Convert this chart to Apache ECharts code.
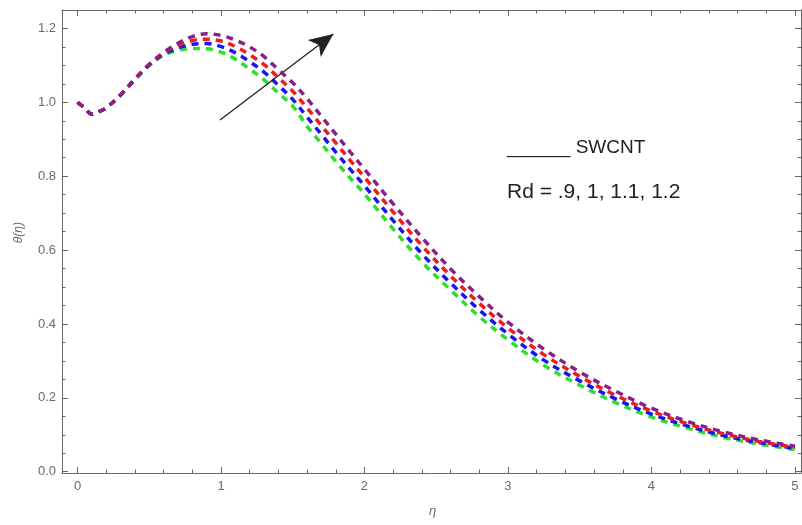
<!DOCTYPE html>
<html>
<head>
<meta charset="utf-8">
<title>θ(η) profiles – SWCNT</title>
<script src="https://cdn.jsdelivr.net/npm/echarts@6/dist/echarts.min.js"></script>
<style>
  html, body { margin: 0; padding: 0; background: #fff; }
  #chart { width: 802px; height: 525px; }
</style>
</head>
<body>
<div id="chart"></div>
<script>
// Similarity variable η (shared by every curve)
const eta = [0, 0.05, 0.1, 0.15, 0.2, 0.3, 0.4, 0.5, 0.6, 0.7, 0.8, 0.9, 1.0, 1.1, 1.2, 1.3, 1.4, 1.5,
             1.6, 1.7, 1.8, 1.9, 2.0, 2.2, 2.4, 2.6, 2.8, 3.0, 3.25, 3.5, 3.75, 4.0, 4.25, 4.5, 4.75, 5.0];

// Temperature profiles θ(η) for the radiation parameter Rd
const thetaRd09 = [1.0, 0.985, 0.968, 0.975, 0.985, 1.02, 1.062, 1.100, 1.128, 1.140, 1.146, 1.145, 1.136, 1.117,
                   1.090, 1.061, 1.025, 0.990, 0.935, 0.888, 0.840, 0.795, 0.752, 0.657, 0.568, 0.492, 0.420,
                   0.357, 0.288, 0.234, 0.187, 0.148, 0.118, 0.093, 0.075, 0.060];
const thetaRd10 = [1.0, 0.985, 0.968, 0.975, 0.985, 1.02, 1.062, 1.101, 1.130, 1.147, 1.157, 1.159, 1.151, 1.134,
                   1.110, 1.082, 1.046, 1.008, 0.960, 0.913, 0.865, 0.819, 0.774, 0.680, 0.590, 0.511, 0.438,
                   0.373, 0.302, 0.246, 0.197, 0.156, 0.124, 0.098, 0.079, 0.063];
const thetaRd11 = [1.0, 0.985, 0.968, 0.975, 0.985, 1.02, 1.063, 1.102, 1.133, 1.154, 1.167, 1.171, 1.166, 1.151,
                   1.129, 1.102, 1.067, 1.030, 0.985, 0.937, 0.890, 0.843, 0.797, 0.703, 0.612, 0.530, 0.456,
                   0.389, 0.317, 0.258, 0.207, 0.164, 0.130, 0.103, 0.082, 0.066];
const thetaRd12 = [1.0, 0.985, 0.968, 0.975, 0.985, 1.02, 1.063, 1.103, 1.135, 1.160, 1.178, 1.186, 1.181, 1.169,
                   1.150, 1.124, 1.088, 1.053, 1.010, 0.962, 0.914, 0.866, 0.819, 0.725, 0.634, 0.549, 0.474,
                   0.405, 0.332, 0.270, 0.218, 0.172, 0.136, 0.108, 0.086, 0.069];

const rdNames  = ['Rd = 0.9', 'Rd = 1', 'Rd = 1.1', 'Rd = 1.2'];
const rdColors = ['#2fdc2f', '#1515f0', '#ee1c1c', '#8a1f8a'];
const rdSeries = [thetaRd09, thetaRd10, thetaRd11, thetaRd12];

// Frame ticks
const xMajor = [0, 1, 2, 3, 4, 5];
const xMinor = [0.2, 0.4, 0.6, 0.8, 1.2, 1.4, 1.6, 1.8, 2.2, 2.4, 2.6, 2.8, 3.2, 3.4, 3.6, 3.8,
                4.2, 4.4, 4.6, 4.8];
const yMajor = [0, 0.2, 0.4, 0.6, 0.8, 1.0, 1.2];
const yMinor = [0.05, 0.1, 0.15, 0.25, 0.3, 0.35, 0.45, 0.5, 0.55, 0.65, 0.7, 0.75, 0.85, 0.9, 0.95,
                1.05, 1.1, 1.15];

// Arrow showing the direction of increasing Rd
const arrowFrom = [0.993, 0.952];
const arrowTo   = [1.783, 1.185];

const X_MIN = -0.108, X_MAX = 5.042, Y_MIN = -0.0035, Y_MAX = 1.25;
const frameColor = '#666';
const labelColor = '#6a6a6a';
const fontFamily = '"Liberation Sans", Arial, sans-serif';

function frameXAxis(position, values, len, withLine, withLabels) {
  return {
    type: 'value', position: position, min: X_MIN, max: X_MAX,
    axisLine: { show: withLine, onZero: false, lineStyle: { color: frameColor, width: 1 } },
    axisTick: { show: true, inside: true, length: len, customValues: values,
                lineStyle: { color: frameColor, width: 1 } },
    axisLabel: { show: withLabels, customValues: values, color: labelColor, fontSize: 13,
                 fontFamily: fontFamily, margin: 7 },
    splitLine: { show: false }
  };
}
function frameYAxis(position, values, len, withLine, withLabels) {
  return {
    type: 'value', position: position, min: Y_MIN, max: Y_MAX,
    axisLine: { show: withLine, onZero: false, lineStyle: { color: frameColor, width: 1 } },
    axisTick: { show: true, inside: true, length: len, customValues: values,
                lineStyle: { color: frameColor, width: 1 } },
    axisLabel: { show: withLabels, customValues: values, color: labelColor, fontSize: 13,
                 fontFamily: fontFamily, margin: 6,
                 formatter: v => v.toFixed(1) },
    splitLine: { show: false }
  };
}

const series = rdSeries.map((vals, i) => ({
  name: rdNames[i],
  type: 'line',
  xAxisIndex: 0, yAxisIndex: 0,
  data: eta.map((e, k) => [e, vals[k]]),
  smooth: 0.35,
  showSymbol: false,
  lineStyle: { color: rdColors[i], width: 3.5, type: [7, 6], cap: 'butt' },
  z: 3 + i
}));

series.push({
  name: 'arrow',
  type: 'line',
  xAxisIndex: 0, yAxisIndex: 0,
  data: [],
  markLine: {
    silent: true,
    symbol: ['none', 'arrow'],
    symbolSize: [16, 24],
    label: { show: false },
    lineStyle: { color: '#222', width: 1.3, type: 'solid' },
    data: [[{ coord: arrowFrom }, { coord: arrowTo }]]
  },
  z: 10
});

const chart = echarts.init(document.getElementById('chart'), null, { renderer: 'canvas' });
chart.setOption({
  backgroundColor: '#fff',
  animation: false,
  grid: { left: 62, right: 1, top: 10, bottom: 52 },
  xAxis: [
    frameXAxis('bottom', xMajor, 6, true, true),
    frameXAxis('bottom', xMinor, 3.5, false, false),
    frameXAxis('top', xMajor, 6, true, false),
    frameXAxis('top', xMinor, 3.5, false, false)
  ],
  yAxis: [
    frameYAxis('left', yMajor, 6, true, true),
    frameYAxis('left', yMinor, 3.5, false, false),
    frameYAxis('right', yMajor, 6, true, false),
    frameYAxis('right', yMinor, 3.5, false, false)
  ],
  series: series,
  graphic: [
    { type: 'text', left: 13, top: 222, rotation: Math.PI / 2,
      style: { text: 'θ(η)', fill: labelColor, font: 'italic 12px ' + fontFamily } },
    { type: 'text', left: 429, top: 505,
      style: { text: 'η', fill: labelColor, font: 'italic 13px ' + fontFamily } },
    { type: 'text', left: 507, top: 138,
      style: { text: '______ SWCNT', fill: '#222', font: '19px ' + fontFamily } },
    { type: 'text', left: 507, top: 182,
      style: { text: 'Rd = .9, 1, 1.1, 1.2', fill: '#222', font: '21px ' + fontFamily } }
  ]
});
</script>
</body>
</html>
